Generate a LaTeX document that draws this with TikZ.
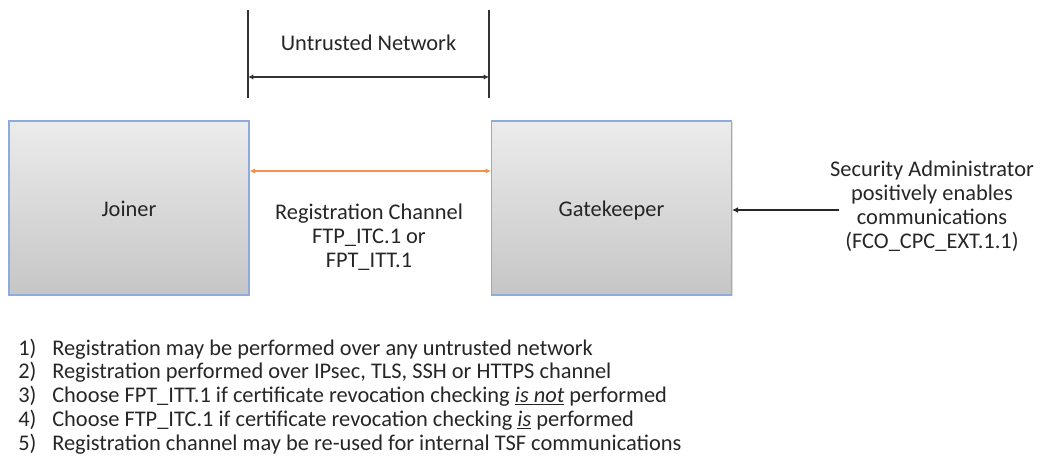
\documentclass[tikz,border=0pt]{standalone}
\usepackage{fontspec}
\setmainfont{Carlito}
\usetikzlibrary{arrows.meta,shadows}
\definecolor{txt}{HTML}{262626}
\definecolor{boxedge}{HTML}{8FAADC}
\definecolor{chan}{HTML}{F4914C}
\tikzset{
  box/.style={draw=boxedge, line width=0.9pt, top color=gray!15, bottom color=gray!45,
    drop shadow={shadow xshift=1pt, shadow yshift=-1pt, opacity=0.25},
    minimum width=240*0.75pt, minimum height=174*0.75pt, inner sep=0pt},
  boxlbl/.style={font=\fontsize{16.8}{18}\selectfont, text=txt, inner sep=0pt,
    text height=0.72em, text depth=0.2em, yshift=-3.5pt},
  lbl/.style={font=\fontsize{16.8}{18}\selectfont, text=txt, align=center, inner sep=0pt},
  item/.style={font=\fontsize{16.8}{18}\selectfont, text=txt, anchor=base west, inner sep=0pt},
  tick/.style={draw=black!80, line width=1.2pt},
}
\begin{document}
\begin{tikzpicture}[x=0.75pt,y=-0.75pt]
\useasboundingbox (0,0) rectangle (1040,464);
% boxes
\node[box, label={[boxlbl]center:Joiner}] (joiner) at (129,208) {};
\node[box, label={[boxlbl]center:Gatekeeper}] (gate) at (611.5,208) {};
% untrusted network bracket
\coordinate (t1) at (248,10);
\coordinate (b1) at (248,98);
\coordinate (t2) at (489,10);
\coordinate (b2) at (489,98);
\draw[tick] (t1) -- (b1);
\draw[tick] (t2) -- (b2);
\coordinate (a1) at (248,77);
\coordinate (a2) at (489,77);
\draw[black!80, line width=1.2pt, {Latex[length=4pt,width=4pt]}-{Latex[length=4pt,width=4pt]}] (a1) -- (a2);
\node[lbl] (un) at (368.5,43) {Untrusted Network};
% registration channel
\draw[chan, line width=1.5pt, {Latex[length=4pt,width=4pt]}-{Latex[length=4pt,width=4pt]}] (joiner.east |- 0,171) -- (gate.west |- 0,171);
\node[lbl] (reg) at (369,237) {Registration Channel\\FTP\_ITC.1 or\\FPT\_ITT.1};
% security admin
\node[lbl] (sa) at (932,206.5) {Security Administrator\\positively enables\\communications\\(FCO\_CPC\_EXT.1.1)};
\coordinate (sastart) at (839,210);
\draw[black!85, line width=1.3pt, -{Latex[length=4.5pt,width=4.5pt]}] (sastart) -- (gate.east |- sastart);
% list
\foreach \n/\t [count=\i from 0] in {
  1)/{Registration may be performed over any untrusted network},
  2)/{Registration performed over IPsec, TLS, SSH or HTTPS channel},
  3)/{Choose FPT\_ITT.1 if certificate revocation checking \underline{\textit{is not}} performed},
  4)/{Choose FTP\_ITC.1 if certificate revocation checking \underline{\textit{is}} performed},
  5)/{Registration channel may be re-used for internal TSF communications}} {
  \node[item] (n\i) at (18,{355+23.8*\i}) {\n};
  \node[item] (l\i) at (52,{355+23.8*\i}) {\t};
}
\end{tikzpicture}
\end{document}
